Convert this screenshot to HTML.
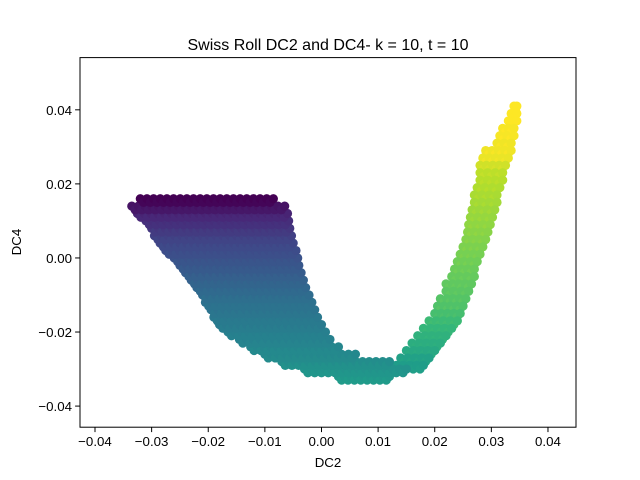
<!DOCTYPE html>
<html><head><meta charset="utf-8">
<style>body{margin:0;background:#fff}svg{display:block;font-family:"Liberation Sans","DejaVu Sans",sans-serif}</style>
</head><body>
<svg id="chart" width="640" height="480" viewBox="0 0 640 480">
<rect x="0" y="0" width="640" height="480" fill="#fff"/>
<text x="328" y="50" text-anchor="middle" font-size="16">Swiss Roll DC2 and DC4- k = 10, t = 10</text>
<g id="points"></g>
<rect x="80" y="57.6" width="496" height="369.6" fill="none" stroke="#000" stroke-width="1"/>
<g id="xticks"></g>
<g id="yticks"></g>
<text x="328" y="467" text-anchor="middle" font-size="13.3">DC2</text>
<text x="21" y="242" text-anchor="middle" font-size="13.3" transform="rotate(-90 21 242)">DC4</text>
</svg>
<script>
// rows: y value, x-left, x-right, colour value
const rowY = [0.016,0.014,0.012,0.010,0.008,0.006,0.004,0.002,0.000,-0.002,-0.004,-0.006,-0.008,-0.010,-0.012,-0.014,-0.016,-0.018,-0.020,-0.022,-0.024,-0.026,-0.028,-0.030,-0.032,
 -0.029,-0.027,-0.025,-0.023,-0.021,-0.019,-0.017,-0.015,-0.013,-0.011,-0.009,-0.007,-0.005,-0.003,-0.001,0.001,0.003,0.005,0.007,0.009,0.011,0.013,0.015,0.017,0.019,0.021,0.023,0.025,0.027,0.029,0.031,0.033,0.035,0.037,0.039,0.041];
const rowXL = [-0.032,-0.0335,-0.0325,-0.031,-0.030,-0.0295,-0.0285,-0.0275,-0.026,-0.025,-0.024,-0.023,-0.022,-0.021,-0.0205,-0.0195,-0.019,-0.018,-0.0165,-0.0145,-0.0125,-0.010,-0.007,-0.003,0.003,
 0.012,0.014,0.015,0.016,0.017,0.018,0.019,0.020,0.0205,0.021,0.022,0.022,0.023,0.0235,0.024,0.0245,0.025,0.0255,0.0258,0.026,0.0263,0.0266,0.027,0.027,0.0275,0.028,0.028,0.028,0.0285,0.029,0.031,0.0315,0.032,0.033,0.0335,0.034];
const rowXR = [-0.0085,-0.0065,-0.006,-0.0058,-0.0056,-0.0053,-0.005,-0.0045,-0.0042,-0.004,-0.0036,-0.0032,-0.0028,-0.0022,-0.0017,-0.0012,-0.0007,0.0,0.0007,0.0015,0.003,0.006,0.012,0.015,0.012,
 0.018,0.019,0.020,0.021,0.022,0.023,0.024,0.0245,0.025,0.0255,0.026,0.0265,0.027,0.027,0.0275,0.028,0.0285,0.029,0.0294,0.0298,0.0302,0.0306,0.031,0.031,0.0315,0.032,0.032,0.0325,0.033,0.0335,0.0335,0.034,0.034,0.0345,0.0345,0.0345];
const rowC = [0.0,0.05,0.1,0.13,0.16,0.19,0.21,0.23,0.25,0.27,0.29,0.31,0.33,0.35,0.37,0.38,0.4,0.41,0.43,0.44,0.46,0.47,0.49,0.51,0.53,
 0.55,0.57,0.6,0.62,0.64,0.66,0.68,0.7,0.72,0.73,0.74,0.75,0.76,0.77,0.78,0.79,0.8,0.81,0.82,0.83,0.84,0.85,0.86,0.87,0.88,0.89,0.9,0.93,0.97,0.98,0.98,0.99,0.99,1.0,1.0,1.0];
const xTicks = [-0.04,-0.03,-0.02,-0.01,0.00,0.01,0.02,0.03,0.04];
const yTicks = [-0.04,-0.02,0.00,0.02,0.04];
const xMin=-0.04265,xMax=0.04495,yMin=-0.0457,yMax=0.0541;
const L=80,R=576,T=57.6,B=427.2;
const sx=v=>L+(v-xMin)/(xMax-xMin)*(R-L);
const sy=v=>B-(v-yMin)/(yMax-yMin)*(B-T);
const vir=[[68,1,84],[72,40,120],[62,74,137],[49,104,142],[38,130,142],[31,158,137],[53,183,121],[110,206,88],[181,222,43],[253,231,37]];
function col(t){t=Math.max(0,Math.min(1,t))*(vir.length-1);const i=Math.min(vir.length-2,Math.floor(t)),f=t-i;
 const c=vir[i].map((a,k)=>Math.round(a+(vir[i+1][k]-a)*f));return `rgb(${c[0]},${c[1]},${c[2]})`;}
const NS='http://www.w3.org/2000/svg';
const gp=document.getElementById('points');
const step=0.0012;
function dot(x,y,c){
  const e=document.createElementNS(NS,'circle');
  
  
  e.setAttribute('cx',sx(x));e.setAttribute('cy',sy(y));e.setAttribute('r',4.6);
  e.setAttribute('fill',col(c));gp.appendChild(e);
}
for(let r=rowY.length-1;r>=0;r--){
  const w=rowXR[r]-rowXL[r];const n=Math.max(1,Math.round(w/step));
  for(let k=0;k<=n;k++){
    const x=rowXL[r]+w*k/n;
    dot(x,rowY[r],rowC[r]);
    if(k<n) dot(x+w/n/2,rowY[r]-0.001,rowC[r]+0.012);
  }
}
const gx=document.getElementById('xticks');
xTicks.forEach(v=>{const x=sx(v);
 const l=document.createElementNS(NS,'line');
 
 
 l.setAttribute('x1',x);l.setAttribute('x2',x);l.setAttribute('y1',B);l.setAttribute('y2',B+4.9);l.setAttribute('stroke','#000');gx.appendChild(l);
 const t=document.createElementNS(NS,'text');
 
 
 t.setAttribute('x',x);t.setAttribute('y',B+19);t.setAttribute('text-anchor','middle');t.setAttribute('font-size','13.3');
 t.textContent=(v<0?'\u2212':'')+Math.abs(v).toFixed(2);gx.appendChild(t);});
const gy=document.getElementById('yticks');
yTicks.forEach(v=>{const y=sy(v);
 const l=document.createElementNS(NS,'line');
 
 
 l.setAttribute('x1',L-4.9);l.setAttribute('x2',L);l.setAttribute('y1',y);l.setAttribute('y2',y);l.setAttribute('stroke','#000');gy.appendChild(l);
 const t=document.createElementNS(NS,'text');
 
 
 t.setAttribute('x',L-8);t.setAttribute('y',y+5);t.setAttribute('text-anchor','end');t.setAttribute('font-size','13.3');
 t.textContent=(v<0?'\u2212':'')+Math.abs(v).toFixed(2);gy.appendChild(t);});
</script>
</body></html>
